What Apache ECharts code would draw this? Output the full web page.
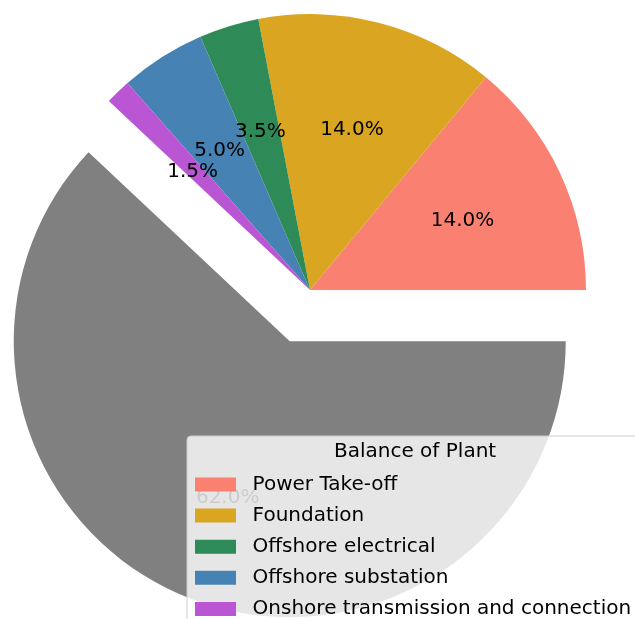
<!DOCTYPE html>
<html>
<head>
<meta charset="utf-8">
<script src="https://cdn.jsdelivr.net/npm/echarts@6/dist/echarts.min.js"></script>
<style>
  html, body { margin: 0; padding: 0; background: #fff; }
  #chart { width: 635px; height: 619px; }
</style>
</head>
<body>
<div id="chart"></div>
<script>
// ---- data ----
const categories = ['Power Take-off', 'Foundation', 'Offshore electrical', 'Offshore substation', 'Onshore transmission and connection', 'Other'];
const values = [14.0, 14.0, 3.5, 5.0, 1.5, 62.0];
const colors = ['#FA8072', '#DAA520', '#2E8B57', '#4682B4', '#BA55D3', '#808080'];
const explodedIndex = 5;
const legendNames = categories.slice(0, 5);
const legendTitle = 'Balance of Plant';

const FONT = 'DejaVu Sans';
const R = 276;
const CENTER = [310, 290];
const OFFSET = 55;

const pieData = categories.map((n, i) => ({
  name: n,
  value: values[i],
  selected: i === explodedIndex,
  itemStyle: { color: colors[i] }
}));
const labelData = categories.map((n, i) => ({
  name: n,
  value: values[i],
  selected: i === explodedIndex,
  itemStyle: { color: 'rgba(0,0,0,0)' }
}));

const chart = echarts.init(document.getElementById('chart'), null, { renderer: 'canvas' });
chart.setOption({
  animation: false,
  backgroundColor: '#ffffff',
  title: {
    text: legendTitle,
    left: 334,
    top: 442,
    padding: 0,
    textStyle: { fontFamily: FONT, fontSize: 20, fontWeight: 'normal', color: '#000', lineHeight: 20 }
  },
  legend: {
    orient: 'vertical',
    left: 187,
    top: 436,
    height: 300,
    padding: [38.5, 13, 8, 8],
    data: legendNames,
    itemWidth: 41,
    itemHeight: 14,
    itemGap: 11.1,
    icon: 'rect',
    symbolKeepAspect: false,
    backgroundColor: 'rgba(255,255,255,0.8)',
    borderColor: '#cccccc',
    borderWidth: 1,
    borderRadius: 4,
    selectedMode: false,
    textStyle: { fontFamily: FONT, fontSize: 20, color: '#000', lineHeight: 20, padding: [0, 0, 0, 11.6] }
  },
  series: [
    {
      type: 'pie',
      center: CENTER,
      radius: [0, R],
      startAngle: 0,
      clockwise: false,
      selectedMode: 'single',
      selectedOffset: OFFSET,
      avoidLabelOverlap: false,
      silent: true,
      emphasis: { disabled: true },
      itemStyle: { borderWidth: 0 },
      select: { itemStyle: { borderWidth: 0 } },
      label: { show: false },
      labelLine: { show: false },
      data: pieData
    },
    {
      type: 'pie',
      center: CENTER,
      radius: [0, R * 1.2],
      startAngle: 0,
      clockwise: false,
      selectedMode: 'single',
      selectedOffset: OFFSET,
      avoidLabelOverlap: false,
      silent: true,
      emphasis: { disabled: true },
      labelLayout: { hideOverlap: false },
      itemStyle: { borderWidth: 0 },
      select: { itemStyle: { borderWidth: 0, color: 'rgba(0,0,0,0)' } },
      label: {
        show: true,
        position: 'inside',
        fontFamily: FONT,
        fontSize: 20,
        color: '#000',
        textBorderWidth: 0,
        offset: [0, 3],
        formatter: p => p.value.toFixed(1) + '%'
      },
      labelLine: { show: false },
      data: labelData
    }
  ]
});
</script>
</body>
</html>
